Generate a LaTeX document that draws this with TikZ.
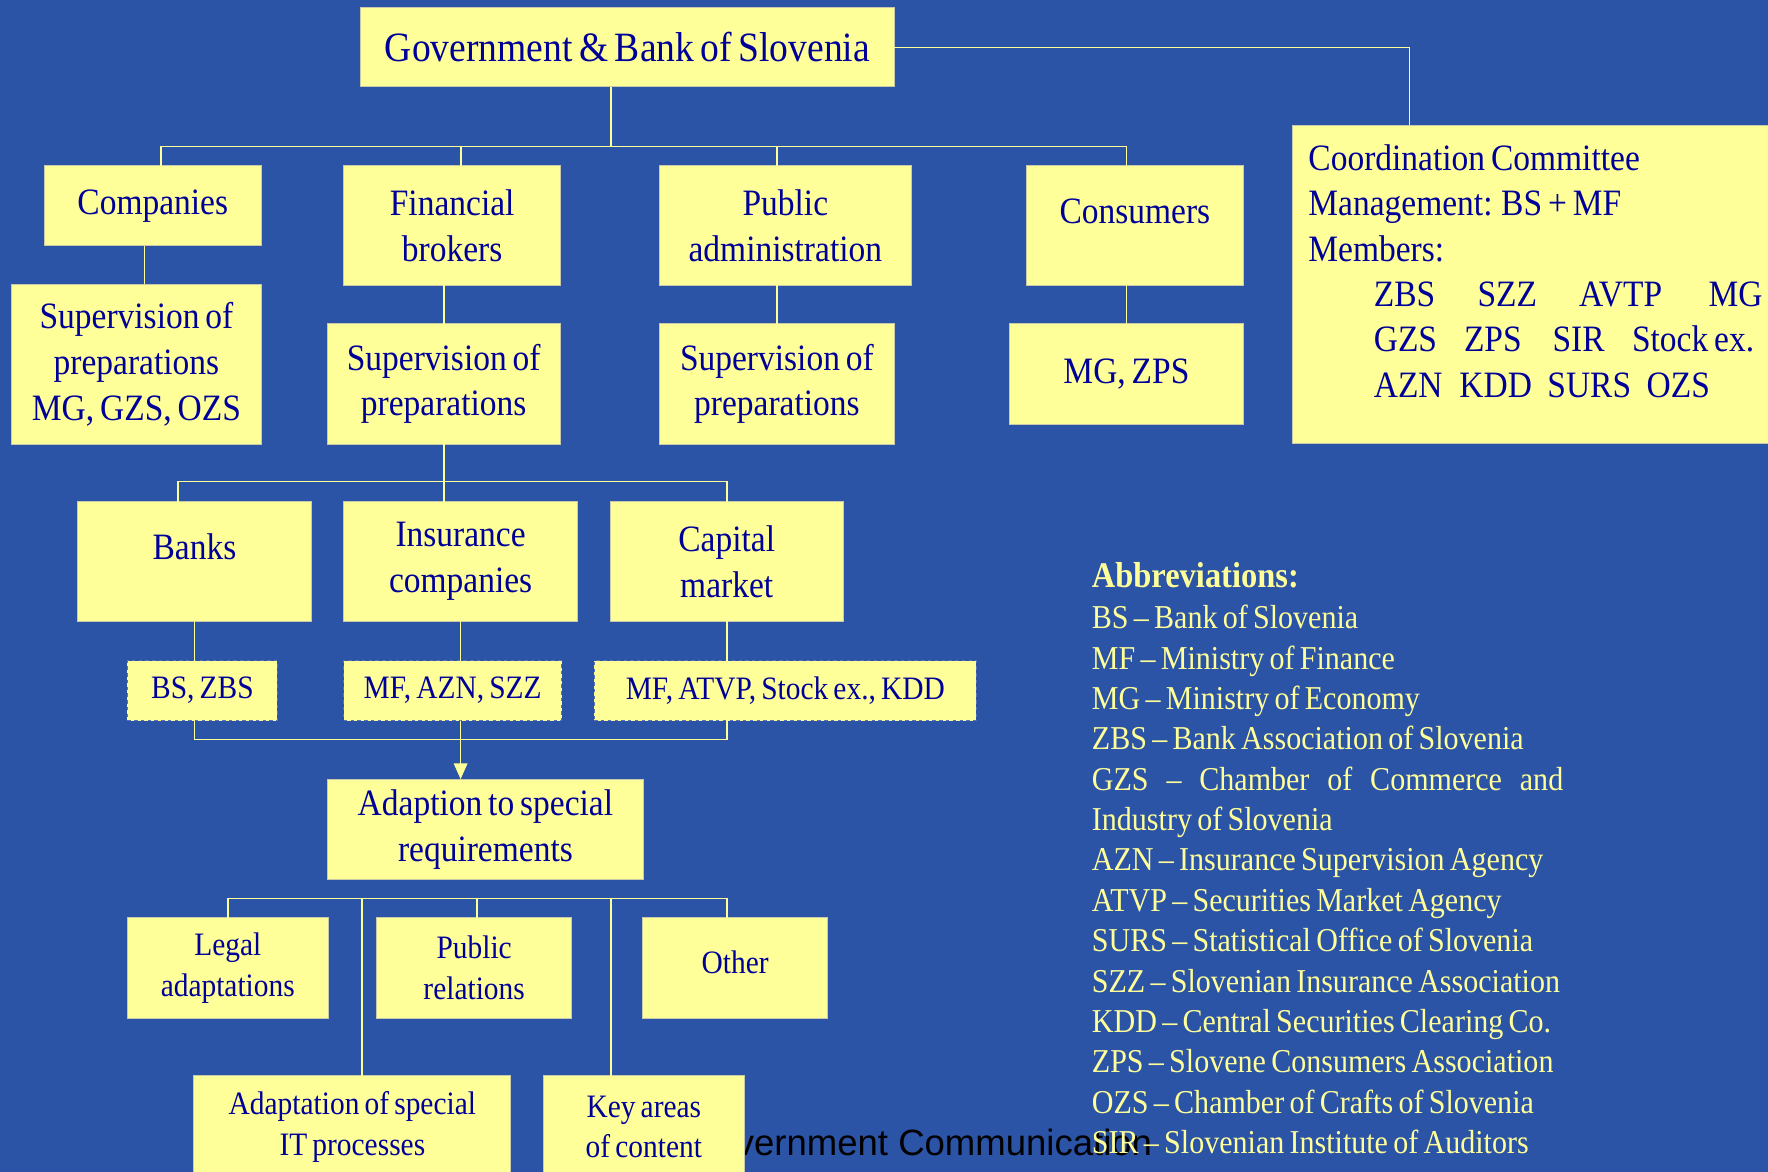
\documentclass[tikz,border=0pt]{standalone}
\usepackage{fontspec}
\setmainfont{Liberation Serif}[FakeStretch=0.9, WordSpace=0.7]
\newfontfamily\footfont{Liberation Sans}
\usepackage{tikz}
\usetikzlibrary{arrows.meta}
\definecolor{SlideBlue}{RGB}{43,83,166}
\definecolor{PaleYellow}{RGB}{255,255,153}
\definecolor{NavyText}{RGB}{0,0,153}
\definecolor{BoxEdge}{RGB}{200,200,170}
\definecolor{DashEdge}{RGB}{90,115,180}

\begin{document}
\begin{tikzpicture}[x=0.5pt, y=-0.5pt,
    box/.style={rectangle, fill=PaleYellow, draw=BoxEdge, line width=0.4pt,
      inner sep=0pt, outer sep=0pt, align=center, text=NavyText,
      font=\fontsize{16.5}{20.25}\selectfont},
    smallbox/.style={box, font=\fontsize{14.5}{18}\selectfont},
    dashbox/.style={smallbox, draw=DashEdge, dash pattern=on 1.5pt off 1.5pt},
    link/.style={draw=PaleYellow, line width=0.7pt},
    memberline/.style={anchor=base west, inner sep=0pt, text=NavyText,
      font=\fontsize{16.5}{20.25}\selectfont}]
  \fill[SlideBlue] (0,0) rectangle (1568,1039);
  \useasboundingbox (0,0) rectangle (1568,1039);

  % footer, partly hidden behind the boxes
  \node[anchor=base west, inner sep=0pt, font=\footfont\fontsize{16.2}{19}\selectfont] (foot)
    at (609,1025) {Government Communication};

  % top level
  \node[box, minimum width=236.5pt, minimum height=35pt, font=\fontsize{18.5}{22}\selectfont] (gov)
    at (556.5,42) {Government \& Bank of Slovenia};
  \node[box, minimum width=96.5pt, minimum height=35.5pt] (companies) at (135.5,182.5) {Companies};
  \node[box, minimum width=96pt, minimum height=53pt] (brokers) at (401,200) {Financial\\brokers};
  \node[box, minimum width=111.5pt, minimum height=53pt] (publicadm) at (696.5,200) {Public\\administration};
  \node[box, minimum width=96.5pt, minimum height=53pt, text depth=13pt] (consumers) at (1006.5,200) {Consumers};

  % coordination committee
  \node[box, minimum width=214.5pt, minimum height=141pt] (coord) at (1360.5,252) {};
  \node[memberline] (cc1) at (1160,150.8) {Coordination Committee};
  \node[memberline] (cc2) at (1160,190.7) {Management: BS + MF};
  \node[memberline] (cc3) at (1160,232) {Members:};
  \node[memberline] (cc4) at (1218,272)
    {\makebox[46pt][l]{ZBS}\makebox[45pt][l]{SZZ}\makebox[57.5pt][l]{AVTP}MG};
  \node[memberline] (cc5) at (1218,312)
    {\makebox[40pt][l]{GZS}\makebox[39.3pt][l]{ZPS}\makebox[35.2pt][l]{SIR}Stock ex.};
  \node[memberline] (cc6) at (1218,352.4)
    {\makebox[38pt][l]{AZN}\makebox[39pt][l]{KDD}\makebox[44pt][l]{SURS}OZS};

  % supervision level
  \node[box, minimum width=111pt, minimum height=71pt] (supcomp) at (121,323)
    {Supervision of\\preparations\\MG, GZS, OZS};
  \node[box, minimum width=103.5pt, minimum height=53.5pt] (supbrok) at (393.5,340.5)
    {Supervision of\\preparations};
  \node[box, minimum width=104pt, minimum height=53.5pt] (suppub) at (689,340.5)
    {Supervision of\\preparations};
  \node[box, minimum width=104pt, minimum height=44.5pt] (mgzps) at (999,331.5) {MG, ZPS};

  % financial brokers
  \node[box, minimum width=103.5pt, minimum height=53pt, text depth=13pt] (banks) at (172.5,498) {Banks};
  \node[box, minimum width=103.5pt, minimum height=53pt] (insurance) at (408.5,498) {Insurance\\companies};
  \node[box, minimum width=103.5pt, minimum height=53pt] (capital) at (644.5,498) {Capital\\market};
  \node[dashbox, minimum width=66.5pt, minimum height=26.5pt] (bszbs) at (179.5,612.5) {BS, ZBS};
  \node[dashbox, minimum width=96.5pt, minimum height=26.5pt] (mfazn) at (401.5,612.5) {MF, AZN, SZZ};
  \node[dashbox, minimum width=169.5pt, minimum height=26.5pt] (mfatvp) at (696.5,612.5)
    {MF, ATVP, Stock ex., KDD};

  % adaption
  \node[box, minimum width=140.5pt, minimum height=44.5pt] (adaption) at (430.5,735.5)
    {Adaption to special\\requirements};
  \node[smallbox, minimum width=89pt, minimum height=44.5pt] (legal) at (202,858.5) {Legal\\adaptations};
  \node[smallbox, minimum width=86.5pt, minimum height=44.5pt] (pubrel) at (420.5,858.5) {Public\\relations};
  \node[smallbox, minimum width=82pt, minimum height=44.5pt, text depth=5.5pt] (other) at (652,858.5) {Other};
  \node[smallbox, minimum width=140.5pt, minimum height=45.5pt] (itproc) at (312.5,999.5)
    {Adaptation of special\\IT processes};
  \node[smallbox, minimum width=89pt, minimum height=45.5pt] (keyareas) at (571,999.5)
    {Key areas\\of content};

  % connectors
  \coordinate (joinC) at (1250,42);
  \draw[link] (gov.east) -| (joinC |- coord.north);

  \coordinate (busA) at (143,130);
  \coordinate (busB) at (999,130);
  \coordinate (busG) at (542,130);
  \coordinate (busF) at (409,130);
  \coordinate (busP) at (689,130);
  \draw[link] (busA |- companies.north) -- (busA) -- (busB) -- (busB |- consumers.north);
  \draw[link] (busG |- gov.south) -- (busG);
  \draw[link] (busF) -- (busF |- brokers.north);
  \draw[link] (busP) -- (busP |- publicadm.north);

  \coordinate (colA) at (128,0);
  \coordinate (colF) at (394,0);
  \draw[link] (colA |- companies.south) -- (colA |- supcomp.north);
  \draw[link] (colF |- brokers.south) -- (colF |- supbrok.north);
  \draw[link] (busP |- publicadm.south) -- (busP |- suppub.north);
  \draw[link] (busB |- consumers.south) -- (busB |- mgzps.north);

  \coordinate (busL2) at (158,427);
  \coordinate (busR2) at (645,427);
  \draw[link] (colF |- supbrok.south) -- (colF |- insurance.north);
  \draw[link] (busL2 |- banks.north) -- (busL2) -- (busR2) -- (busR2 |- capital.north);

  \draw[link] (banks.south) -- (banks.south |- bszbs.north);
  \draw[link] (insurance.south) -- (insurance.south |- mfazn.north);
  \draw[link] (busR2 |- capital.south) -- (busR2 |- mfatvp.north);

  \coordinate (busL3) at (172.5,656);
  \coordinate (busR3) at (645,656);
  \draw[link] (busL3 |- bszbs.south) -- (busL3) -- (busR3) -- (busR3 |- mfatvp.south);
  \draw[link, -{Triangle[length=7pt, width=6pt, fill=PaleYellow]}]
    (insurance.south |- mfazn.south) -- (insurance.south |- adaption.north);

  \coordinate (busL4) at (202,797);
  \coordinate (busR4) at (645,797);
  \coordinate (busI) at (321,797);
  \coordinate (busK) at (542,797);
  \coordinate (busR) at (423,797);
  \draw[link] (busL4 |- legal.north) -- (busL4) -- (busR4) -- (busR4 |- other.north);
  \draw[link] (busI) -- (busI |- itproc.north);
  \draw[link] (busK) -- (busK |- keyareas.north);
  \draw[link] (busR) -- (busR |- pubrel.north);

  % abbreviations
  \node[anchor=north west, inner sep=0pt, align=left, text=PaleYellow,
        font=\fontsize{14.8}{17.9}\selectfont] (abbrev) at (968,498)
    {{\fontsize{16}{17.9}\selectfont\bfseries Abbreviations:}\\[0.6pt]
     BS -- Bank of Slovenia\\
     MF -- Ministry of Finance\\
     MG -- Ministry of Economy\\
     ZBS -- Bank Association of Slovenia\\
     \makebox[209pt][s]{GZS -- Chamber of Commerce and}\\
     Industry of Slovenia\\
     AZN -- Insurance Supervision Agency\\
     ATVP -- Securities Market Agency\\
     SURS -- Statistical Office of Slovenia\\
     SZZ -- Slovenian Insurance Association\\
     KDD -- Central Securities Clearing Co.\\
     ZPS -- Slovene Consumers Association\\
     OZS -- Chamber of Crafts of Slovenia\\
     SIR -- Slovenian Institute of Auditors};
\end{tikzpicture}
\end{document}
